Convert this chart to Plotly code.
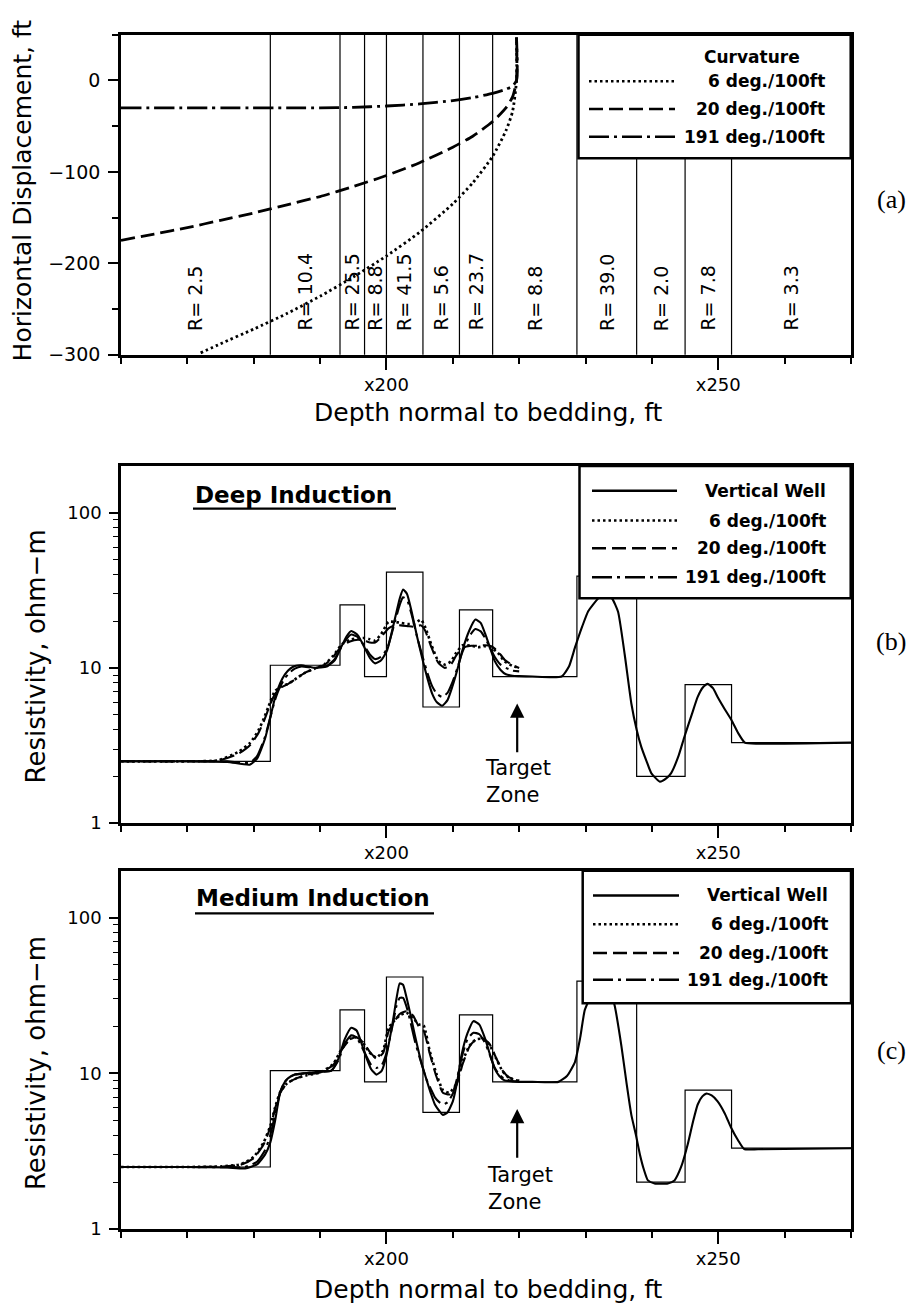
import math
import plotly.graph_objects as go

W, H = 912, 1315

# ---------------- data ----------------
bed_tops = [160, 182.5, 193, 196.7, 200, 205.5, 211, 216, 228.7, 237.7, 245, 252]
bed_base = 270
bed_R = [2.5, 10.4, 25.5, 8.8, 41.5, 5.6, 23.7, 8.8, 39.0, 2.0, 7.8, 3.3]

curv_names = ["6 deg./100ft", "20 deg./100ft", "191 deg./100ft"]

# (a) horizontal displacement
disp6_x = [172, 175, 180, 185, 190, 195, 200, 205, 210, 213, 216, 218, 219, 219.6, 219.6]
disp6_y = [-298, -288, -272, -255, -236, -215, -192, -166, -135, -112, -83, -55, -34, 0, 47]
disp20_x = [160, 165, 170, 175, 180, 185, 190, 195, 200, 205, 210, 213, 216, 218, 219, 219.6, 219.6]
disp20_y = [-175, -168, -161, -153, -145, -136, -127, -116, -104, -90, -73, -61, -45, -30, -18, 0, 47]
disp191_x = [160, 185, 190, 195, 200, 205, 210, 213, 216, 218, 219, 219.6, 219.6]
disp191_y = [-30, -30, -30, -29.5, -28, -25.7, -22, -18.8, -14.2, -9.7, -6, 0, 47]

# (b) deep induction
deep_dev_x = [160, 170, 176, 179.4, 180.5, 181.7, 182.5, 183.2, 184, 184.7,
              185.5, 186.2, 187.2, 189.2, 191, 192.2, 193.1, 194, 194.7, 195.7,
              196.7, 197.5, 198.3, 199.2, 200.1, 201.3, 202, 202.5, 203.1, 203.8,
              204.6, 205.4, 206.2, 206.9, 207.6, 208.4, 209.2, 209.9, 210.7, 211.4,
              212.5, 213.4, 214.2, 214.9, 215.6, 216.3, 217.2, 218, 219, 220]
deep_tail_x = [222, 226.4, 227.5, 228.4, 229.5, 230.4, 231.9, 233, 234, 234.9,
               235.9, 236.9, 237.7, 238.4, 239.2, 239.9, 241.2, 242.2, 242.9, 244,
               244.9, 246, 246.9, 247.7, 248.4, 249.2, 249.9, 251, 252, 253,
               254, 256, 270]
deep_vert_y = [2.5, 2.5, 2.48, 2.38, 2.6, 3.5, 4.8, 6.4, 8.0, 9.1,
               9.9, 10.3, 10.4, 10.0, 10.2, 11.2, 13.4, 16, 17.3, 16.2,
               13.5, 11.6, 10.7, 11.2, 13, 21, 28, 32, 30, 23,
               16, 11.5, 8.5, 6.8, 6.0, 5.7, 6.2, 7.5, 9.8, 12.8,
               17.5, 20.5, 19.5, 16.5, 13.5, 11.1, 9.7, 9.1, 8.9, 8.85,
               8.8, 8.8, 10.2, 13.5, 18.5, 23.2, 28, 30, 28, 23,
               12.2, 5.9, 4.0, 3.1, 2.5, 2.1, 1.85, 1.95, 2.1, 2.7,
               3.6, 5.0, 6.5, 7.5, 7.9, 7.4, 6.5, 5.4, 4.6, 3.8,
               3.3, 3.25, 3.3]
deep191_y = [2.5, 2.5, 2.5, 2.45, 2.7, 3.6, 4.8, 6.2, 7.6, 8.6,
             9.4, 9.9, 10.2, 10.0, 10.3, 11.4, 13.4, 15.4, 16.4, 15.8,
             13.8, 12.2, 11.4, 11.8, 13.3, 20, 25.5, 28.5, 27.5, 22,
             16, 12, 9.2, 7.6, 6.8, 6.5, 6.9, 8.0, 10, 12.5,
             16, 17.8, 17.2, 15.5, 13.5, 11.8, 10.5, 10, 9.6, 9.5]
deep_slow_x = [160, 170, 174.7, 177.7, 179.5, 180.7, 181.5, 182.2, 183.2, 184.2,
               185.2, 186.5, 187.7, 189.2, 190.7, 192, 193.2, 194.5, 195.7, 196.7,
               197.5, 198.3, 199.2, 200.3, 201.2, 202.2, 203.2, 204.2, 205.2, 205.8,
               206.8, 207.8, 208.8, 209.7, 210.5, 211.5, 212.8, 213.8, 214.8, 215.8,
               216.8, 217.8, 219, 220]
deep6_y = [2.5, 2.5, 2.54, 2.88, 3.3, 3.95, 4.7, 5.6, 7.1, 7.6,
           7.9, 8.6, 9.3, 9.9, 10.6, 12, 14.1, 15.2, 15.5, 15.6,
           15.3, 15.0, 16.5, 19.8, 19.8, 19.5, 19.2, 19.3, 20.5, 18.5,
           14, 11.1, 10.5, 11, 12.5, 14, 13.9, 13.6, 13.8, 13.5,
           12.5, 11, 10.3, 10.0]
deep20_y = [2.5, 2.5, 2.53, 2.8, 3.2, 3.8, 4.5, 5.4, 6.8, 7.5,
            7.9, 8.6, 9.3, 9.9, 10.5, 11.8, 13.8, 14.8, 15.2, 15.0,
            14.6, 14.6, 15.8, 18, 18.8, 18.8, 18.6, 18.4, 18.8, 17.5,
            13.5, 10.8, 10.0, 10.5, 12, 13.5, 13.9, 13.9, 14, 13.8,
            12.8, 11.3, 10.4, 10.0]

# (c) medium induction
med_dev_x = [160, 170, 176, 178.7, 180.5, 181.7, 182.5, 183.2, 184, 184.7,
             185.2, 186.2, 187.7, 189.7, 191.7, 192.8, 193.7, 194.7, 195.5, 196.2,
             197, 197.7, 198.5, 199.3, 200, 201, 201.5, 202, 202.5, 203,
             203.6, 204.3, 205.2, 206, 206.7, 207.3, 208, 208.5, 209.2, 210,
             210.7, 211.3, 212.2, 213.1, 214, 214.9, 215.6, 216.3, 217, 217.8,
             219, 220]
med_tail_x = [222, 225.9, 227.2, 228.4, 229.2, 229.9, 231, 232.5, 234, 234.4,
              235.4, 236.2, 236.9, 237.6, 238.2, 238.8, 239.4, 240.4, 241.4, 242.4,
              243.4, 244.4, 245.4, 246.2, 246.9, 247.6, 248.2, 249, 249.9, 251,
              251.9, 253, 253.9, 256, 270]
med_vert_y = [2.5, 2.5, 2.48, 2.45, 2.6, 3.0, 3.6, 4.9, 7.6, 8.8,
              9.3, 9.8, 10.0, 10.2, 10.4, 12.5, 16.5, 19.6, 18.8, 15.8,
              12.5, 10.6, 9.8, 10.4, 13, 22, 30, 37.8, 37, 31,
              24, 17.4, 12, 9.2, 7.4, 6.3, 5.7, 5.4, 5.6, 6.6,
              9.0, 13, 18, 21.6, 20.5, 16.5, 13.2, 10.7, 9.6, 9.0,
              8.85, 8.8,
              8.8, 8.8, 9.6, 11.8, 17, 25.6, 32, 35, 31, 27,
              15, 8.5, 5.4, 4.0, 3.0, 2.4, 2.05, 1.96, 1.95, 1.96,
              2.05, 2.5, 3.5, 4.9, 6.3, 7.1, 7.4, 7.2, 6.6, 5.5,
              4.5, 3.7, 3.26, 3.25, 3.3]
med191_y = [2.5, 2.5, 2.49, 2.5, 2.7, 3.2, 4.0, 5.4, 7.6, 8.8,
            9.3, 9.8, 10.0, 10.2, 10.4, 12.2, 15.5, 17.5, 17, 15,
            12.8, 11.3, 10.8, 11.3, 13.5, 21, 27, 30.5, 30.5, 27,
            21.5, 16, 11.8, 9.2, 7.9, 7.0, 6.5, 6.3, 6.5, 7.4,
            9.5, 12.5, 16.5, 18.2, 17.8, 15.5, 13, 10.9, 9.8, 9.2,
            8.9, 8.9]
med_slow_x = [160, 170, 175, 178, 180, 181.5, 182.5, 183.2, 184, 185,
              186.5, 188, 190, 192, 193.2, 194.5, 195.5, 196.5, 197.5, 198.5,
              199.5, 200.3, 201.2, 202, 203, 204, 205, 205.6, 206.5, 207.5,
              208.5, 209.5, 210.5, 211.5, 212.5, 213.5, 214.5, 215.5, 216.5, 217.5,
              218.5, 220]
med6_y = [2.5, 2.5, 2.52, 2.6, 2.9, 3.6, 4.6, 6.0, 7.6, 8.6,
          9.3, 9.7, 10.1, 11.5, 14.2, 16.6, 17, 15.6, 13.5, 12.6,
          14, 19.5, 21.8, 23.5, 24.5, 22.5, 20.5, 20.3, 14, 10,
          7.8, 7.5, 8.5, 12, 15, 16.5, 16.6, 15.3, 12.5, 10.3,
          9.3, 8.9]
med20_y = [2.5, 2.5, 2.51, 2.58, 2.85, 3.5, 4.5, 5.9, 7.5, 8.6,
           9.3, 9.8, 10.1, 11.3, 14, 16.5, 17, 15.8, 13.7, 12.4,
           13.5, 18.5, 21.5, 24, 25, 23.5, 19.5, 18.8, 13.5, 9.6,
           7.5, 7.3, 8.3, 11.5, 14.8, 16.5, 16.8, 15.5, 12.6, 10.4,
           9.4, 9.0]

deep_vert_x = deep_dev_x + deep_tail_x
med_vert_x = med_dev_x + med_tail_x
for xs, ys in [(deep_vert_x, deep_vert_y), (deep_dev_x, deep191_y), (deep_slow_x, deep6_y),
               (deep_slow_x, deep20_y), (med_vert_x, med_vert_y), (med_dev_x, med191_y),
               (med_slow_x, med6_y), (med_slow_x, med20_y)]:
    assert len(xs) == len(ys), (len(xs), len(ys))

# ---------------- styling ----------------
FONT = "DejaVu Sans"
BLACK = "black"
DOT = "2.5px,3px"
DASH = "14px,6px"
DASHDOT = "20px,5px,3px,5px"


def px(x):
    return x / W


def py(y):
    return 1 - y / H


xdom = [px(121), px(851)]
ydom_a = [py(357.7), py(35)]
ydom_b = [py(830), py(470)]
ydom_c = [py(1239.3), py(878)]

fig = go.Figure()

# (a) curves
for xs, ys, dash in [(disp6_x, disp6_y, DOT), (disp20_x, disp20_y, DASH), (disp191_x, disp191_y, DASHDOT)]:
    fig.add_trace(go.Scatter(x=xs, y=ys, mode="lines", xaxis="x", yaxis="y",
                             line=dict(color=BLACK, width=2.8, dash=dash, shape="spline", smoothing=0.6),
                             showlegend=False, hoverinfo="skip"))

# model step curves (b, c)
step_x = bed_tops + [bed_base]
step_y = bed_R + [bed_R[-1]]
for xa, ya in [("x2", "y2"), ("x3", "y3")]:
    fig.add_trace(go.Scatter(x=step_x, y=step_y, mode="lines", xaxis=xa, yaxis=ya,
                             line=dict(color=BLACK, width=1.2, shape="hv"),
                             showlegend=False, hoverinfo="skip"))

# log curves
sets = [
    ("x2", "y2", [(deep_vert_x, deep_vert_y, "solid"), (deep_slow_x, deep6_y, DOT),
                  (deep_slow_x, deep20_y, DASH), (deep_dev_x, deep191_y, DASHDOT)]),
    ("x3", "y3", [(med_vert_x, med_vert_y, "solid"), (med_slow_x, med6_y, DOT),
                  (med_slow_x, med20_y, DASH), (med_dev_x, med191_y, DASHDOT)]),
]
for xa, ya, curves in sets:
    for xs, ys, dash in curves:
        fig.add_trace(go.Scatter(x=xs, y=ys, mode="lines", xaxis=xa, yaxis=ya,
                                 line=dict(color=BLACK, width=2.1 if dash != DOT else 2.6, dash=dash,
                                           shape="spline", smoothing=0.5),
                                 showlegend=False, hoverinfo="skip"))

shapes = []
annotations = []

# (a) bed boundaries
for b in bed_tops[1:]:
    shapes.append(dict(type="line", xref="x", yref="y domain", x0=b, x1=b, y0=0, y1=1,
                       line=dict(color=BLACK, width=1.2), layer="below"))
# (a) R labels
edges = bed_tops + [bed_base]
for i, r in enumerate(bed_R):
    xc = (edges[i] + edges[i + 1]) / 2
    annotations.append(dict(x=xc, y=-276, xref="x", yref="y", text=f"R= {r:.1f}", showarrow=False,
                            textangle=-90, xanchor="center", yanchor="bottom",
                            font=dict(family=FONT, size=19, color=BLACK)))


def legend_box(x0, x1, y0, y1):
    shapes.append(dict(type="rect", xref="paper", yref="paper", x0=px(x0), x1=px(x1), y0=py(y1), y1=py(y0),
                       fillcolor="white", line=dict(color=BLACK, width=2.5), layer="above"))


def legend_entry(sx0, sx1, tx, yy, dash, label):
    shapes.append(dict(type="line", xref="paper", yref="paper", x0=px(sx0), x1=px(sx1), y0=py(yy), y1=py(yy),
                       line=dict(color=BLACK, width=2.5, dash=dash), layer="above"))
    annotations.append(dict(x=px(tx), y=py(yy), xref="paper", yref="paper", text=label, showarrow=False,
                            xanchor="right", yanchor="middle",
                            font=dict(family=FONT, size=17, color=BLACK, weight="bold")))


# legend (a)
legend_box(578.5, 850.7, 35, 159.5)
annotations.append(dict(x=px(752), y=py(57), xref="paper", yref="paper", text="Curvature", showarrow=False,
                        xanchor="center", yanchor="middle", font=dict(family=FONT, size=17, color=BLACK, weight="bold")))
for yy, dash, lab in zip([82, 110, 138], [DOT, DASH, DASHDOT], curv_names):
    legend_entry(589, 675, 827, yy, dash, lab)

# legends (b), (c)
leg_names = ["Vertical Well"] + curv_names
for (bx0, bx1, by0, by1, ys, sx0, sx1, tx) in [
        (579.5, 850.7, 470, 603.3, [495, 525, 553, 582], 592, 677, 828),
        (582.7, 851, 878, 1011.7, [903, 932, 961, 988], 593, 679, 830)]:
    legend_box(bx0, bx1, by0, by1)
    for yy, dash, lab in zip(ys, ["solid", DOT, DASH, DASHDOT], leg_names):
        legend_entry(sx0, sx1, tx, yy, dash, lab)

# panel titles with underline
for text, cx, cy, ux0, ux1, uy in [("Deep Induction", 293, 499, 193, 396, 513),
                                    ("Medium Induction", 313, 906, 195, 434, 921)]:
    annotations.append(dict(x=px(cx), y=py(cy), xref="paper", yref="paper", text=text, showarrow=False,
                            xanchor="center", yanchor="middle",
                            font=dict(family=FONT, size=23, color=BLACK, weight="bold")))
    shapes.append(dict(type="line", xref="paper", yref="paper", x0=px(ux0), x1=px(ux1), y0=py(uy), y1=py(uy),
                       line=dict(color=BLACK, width=2.2)))

# target zone arrows + text
for xa, ya, head, tail, tx, ty in [("x2", "y2", 5.9, 2.8, 483, 788), ("x3", "y3", 5.9, 2.8, 485, 1199)]:
    annotations.append(dict(x=219.7, y=math.log10(head), xref=xa, yref=ya, ax=219.7, ay=math.log10(tail),
                            axref=xa, ayref=ya, text="", showarrow=True, arrowhead=2, arrowsize=1.3,
                            arrowwidth=2.2, arrowcolor=BLACK))
    annotations.append(dict(x=px(tx), y=py(ty), xref="paper", yref="paper", text="Target<br>Zone",
                            showarrow=False, align="left", xanchor="left", yanchor="middle",
                            font=dict(family=FONT, size=21, color=BLACK)))

# panel labels
for lab, yy in [("(a)", 201), ("(b)", 647), ("(c)", 1059)]:
    annotations.append(dict(x=px(891), y=py(yy), xref="paper", yref="paper", text=lab, showarrow=False,
                            xanchor="center", yanchor="middle",
                            font=dict(family="Liberation Serif", size=26, color=BLACK)))

# axis titles
annotations.append(dict(x=px(22), y=py(192), xref="paper", yref="paper", text="Horizontal Displacement, ft",
                        showarrow=False, textangle=-90, xanchor="center", yanchor="middle",
                        font=dict(family=FONT, size=25, color=BLACK)))
for yy in [662, 1072]:
    annotations.append(dict(x=px(36), y=py(yy), xref="paper", yref="paper", text="Resistivity, ohm\u2212m",
                            showarrow=False, textangle=-90, xanchor="center", yanchor="middle",
                            font=dict(family=FONT, size=26, color=BLACK)))
for yy in [416, 1300]:
    annotations.append(dict(x=px(488), y=py(yy), xref="paper", yref="paper", text="Depth normal to bedding, ft",
                            showarrow=False, xanchor="center", yanchor="middle",
                            font=dict(family=FONT, size=25, color=BLACK)))


def xaxis(anchor):
    return dict(domain=xdom, range=[160, 270], anchor=anchor, tickvals=[200, 250], ticktext=["x200", "x250"],
                ticks="outside", ticklen=12, tickwidth=2, tickcolor=BLACK, showline=True, linewidth=2.6,
                linecolor=BLACK, mirror=True, showgrid=False, zeroline=False,
                tickfont=dict(family=FONT, size=18, color=BLACK), ticklabelstandoff=0,
                minor=dict(dtick=10, tick0=160, ticks="outside", ticklen=6, tickwidth=1.6,
                           tickcolor=BLACK, showgrid=False))


log_minor = [2, 3, 4, 5, 6, 7, 8, 9, 20, 30, 40, 50, 60, 70, 80, 90]


def logaxis(anchor, dom):
    return dict(domain=dom, type="log", range=[0, math.log10(200)], anchor=anchor,
                tickvals=[1, 10, 100], ticktext=["1", "10", "100"], ticks="outside", ticklen=9, tickwidth=2,
                tickcolor=BLACK, showline=True, linewidth=2.6, linecolor=BLACK, mirror=True,
                showgrid=False, zeroline=False, tickfont=dict(family=FONT, size=18, color=BLACK),
                ticklabelstandoff=4,
                minor=dict(tickvals=log_minor, ticks="outside", ticklen=5, tickwidth=1.4,
                           tickcolor=BLACK, showgrid=False))


fig.update_layout(
    width=W, height=H, margin=dict(l=0, r=0, t=0, b=0),
    paper_bgcolor="white", plot_bgcolor="white",
    font=dict(family=FONT, color=BLACK),
    showlegend=False,
    xaxis=xaxis("y"),
    xaxis2=xaxis("y2"),
    xaxis3=xaxis("y3"),
    yaxis=dict(domain=ydom_a, range=[-300, 50], anchor="x", tickvals=[-300, -200, -100, 0],
               ticks="outside", ticklen=10, tickwidth=2, tickcolor=BLACK, showline=True, linewidth=2.6,
               linecolor=BLACK, mirror=True, showgrid=False, zeroline=False,
               tickfont=dict(family=FONT, size=19, color=BLACK), ticklabelstandoff=4,
               minor=dict(dtick=50, tick0=0, ticks="outside", ticklen=6, tickwidth=1.6,
                          tickcolor=BLACK, showgrid=False)),
    yaxis2=logaxis("x2", ydom_b),
    yaxis3=logaxis("x3", ydom_c),
    shapes=shapes,
    annotations=annotations,
)

fig.write_html("out.html")
